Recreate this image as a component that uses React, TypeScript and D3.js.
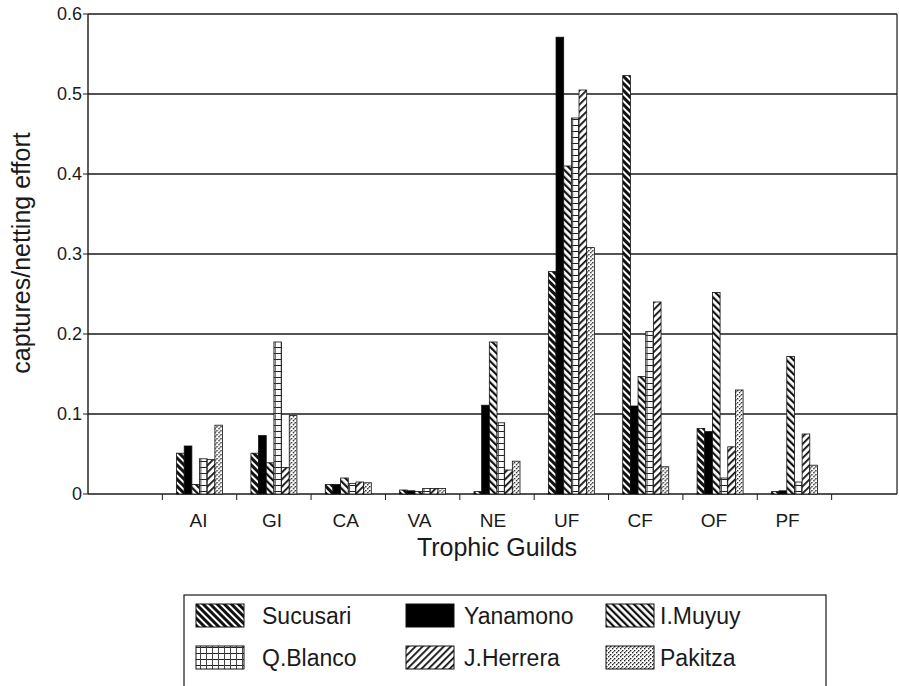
import React from "react";
import * as d3 from "d3";

const guilds = ["AI", "GI", "CA", "VA", "NE", "UF", "CF", "OF", "PF"];
const slots = ["_start", ...guilds, "_end"];
const yTicks = [0, 0.1, 0.2, 0.3, 0.4, 0.5, 0.6];

const sites = ["Sucusari", "Yanamono", "I.Muyuy", "Q.Blanco", "J.Herrera", "Pakitza"];

const sucusari = [0.051, 0.051, 0.012, 0.005, 0.003, 0.278, 0.523, 0.082, 0.003];
const yanamono = [0.06, 0.073, 0.012, 0.004, 0.111, 0.571, 0.11, 0.078, 0.004];
const iMuyuy = [0.012, 0.039, 0.02, 0.003, 0.19, 0.41, 0.147, 0.252, 0.172];
const qBlanco = [0.044, 0.19, 0.013, 0.007, 0.089, 0.47, 0.203, 0.02, 0.015];
const jHerrera = [0.043, 0.033, 0.015, 0.007, 0.03, 0.505, 0.24, 0.059, 0.075];
const pakitza = [0.086, 0.098, 0.014, 0.007, 0.041, 0.308, 0.034, 0.13, 0.036];

const seriesValues = [sucusari, yanamono, iMuyuy, qBlanco, jHerrera, pakitza];

const fills = [
  "url(#pSucusari)",
  "#000",
  "url(#pMuyuy)",
  "url(#pBlanco)",
  "url(#pHerrera)",
  "url(#pPakitza)",
];

const W = 899;
const H = 686;
const left = 88;
const right = 897;
const top = 14;
const bottom = 494;
const font = "'Liberation Sans', Arial, sans-serif";
const ink = "#1a1a1a";

const Patterns = () => (
  <defs>
    <pattern id="pSucusari" width={5} height={5} patternUnits="userSpaceOnUse" patternTransform="rotate(-45)">
      <rect width={5} height={5} fill="#fff" />
      <rect width={3} height={5} fill="#111" />
    </pattern>
    <pattern id="pMuyuy" width={5} height={5} patternUnits="userSpaceOnUse" patternTransform="rotate(-45)">
      <rect width={5} height={5} fill="#fff" />
      <rect width={2.2} height={5} fill="#111" />
    </pattern>
    <pattern id="pHerrera" width={5} height={5} patternUnits="userSpaceOnUse" patternTransform="rotate(45)">
      <rect width={5} height={5} fill="#fff" />
      <rect width={1.8} height={5} fill="#111" />
    </pattern>
    <pattern id="pBlanco" width={6} height={6} patternUnits="userSpaceOnUse">
      <rect width={6} height={6} fill="#fff" />
      <rect x={0} y={5} width={6} height={1} fill="#222" />
      <rect x={2} y={0} width={1} height={6} fill="#444" />
    </pattern>
    <pattern id="pPakitza" width={4} height={4} patternUnits="userSpaceOnUse">
      <rect width={4} height={4} fill="#fff" />
      <rect x={0} y={0} width={1.4} height={1.4} fill="#222" />
      <rect x={2} y={2} width={1.4} height={1.4} fill="#222" />
      <rect x={1} y={3} width={1} height={1} fill="#777" />
    </pattern>
  </defs>
);

export default function App() {
  const x = d3.scaleBand<string>().domain(slots).range([left, 906]);
  const xLabel = d3.scaleBand<string>().domain(slots).range([left, 898]);
  const y = d3.scaleLinear().domain([0, 0.6]).range([bottom, top]);

  // group of 6 bars spans ~46px inside a ~74px band
  const groupWidth = 46;
  const barX = d3
    .scaleBand<string>()
    .domain(sites)
    .range([(x.bandwidth() - groupWidth) / 2, (x.bandwidth() + groupWidth) / 2]);

  const swatchX = [196, 406, 606];
  const textX = [262, 464, 660];
  const legendRows = [604, 646];

  return (
    <svg
      width={W}
      height={H}
      style={{ position: "absolute", left: 0, top: 0, background: "#fff" }}
      fontFamily={font}
    >
      <Patterns />

      {/* gridlines */}
      {yTicks.map((t) => (
        <line key={`g${t}`} x1={left} x2={right} y1={y(t)} y2={y(t)} stroke={ink} strokeWidth={1.3} />
      ))}
      {/* frame */}
      <line x1={left} x2={left} y1={top} y2={bottom} stroke={ink} strokeWidth={1.4} />
      <line x1={right} x2={right} y1={top} y2={bottom} stroke={ink} strokeWidth={1.2} />

      {/* y ticks and labels */}
      {yTicks.map((t) => (
        <g key={`t${t}`}>
          <line x1={left - 5} x2={left} y1={y(t)} y2={y(t)} stroke={ink} strokeWidth={1} />
          <text x={left - 6} y={y(t)} dy="0.36em" textAnchor="end" fontSize={18} fill={ink}>
            {t === 0 ? "0" : d3.format(".1f")(t)}
          </text>
        </g>
      ))}
      <text
        transform={`translate(30,${253}) rotate(-90)`}
        textAnchor="middle"
        fontSize={25}
        fill={ink}
      >
        captures/netting effort
      </text>

      {/* category ticks */}
      {slots.slice(0, -1).map((s) => (
        <line
          key={`ct${s}`}
          x1={(x(s) ?? 0) + x.bandwidth()}
          x2={(x(s) ?? 0) + x.bandwidth()}
          y1={bottom}
          y2={bottom + 6}
          stroke={ink}
          strokeWidth={1}
        />
      ))}

      {/* bars */}
      {guilds.map((gName, gi) => (
        <g key={gName} transform={`translate(${x(gName)},0)`}>
          {sites.map((site, si) => {
            const v = seriesValues[si][gi];
            const y0 = y(v);
            return (
              <rect
                key={site}
                x={barX(site)}
                y={y0}
                width={barX.bandwidth()}
                height={Math.max(bottom - y0, 0.8)}
                fill={fills[si]}
                stroke="#111"
                strokeWidth={0.8}
              />
            );
          })}
        </g>
      ))}

      {/* category labels */}
      {guilds.map((gName) => (
        <text
          key={`l${gName}`}
          x={(xLabel(gName) ?? 0) + xLabel.bandwidth() / 2}
          y={527}
          textAnchor="middle"
          fontSize={19}
          fill={ink}
        >
          {gName}
        </text>
      ))}
      <text x={497} y={556} textAnchor="middle" fontSize={25} fill={ink}>
        Trophic Guilds
      </text>

      {/* legend (bottom edge falls off the page, as in the scan) */}
      <rect x={184} y={595} width={642} height={96} fill="none" stroke={ink} strokeWidth={1.2} />
      {sites.map((site, si) => {
        const col = si % 3;
        const row = Math.floor(si / 3);
        const ly = legendRows[row];
        return (
          <g key={`lg${site}`}>
            <rect x={swatchX[col]} y={ly} width={48} height={23} fill={fills[si]} stroke="#111" strokeWidth={1} />
            <text x={textX[col]} y={ly + 20} fontSize={23} fill={ink}>
              {site}
            </text>
          </g>
        );
      })}
    </svg>
  );
}
